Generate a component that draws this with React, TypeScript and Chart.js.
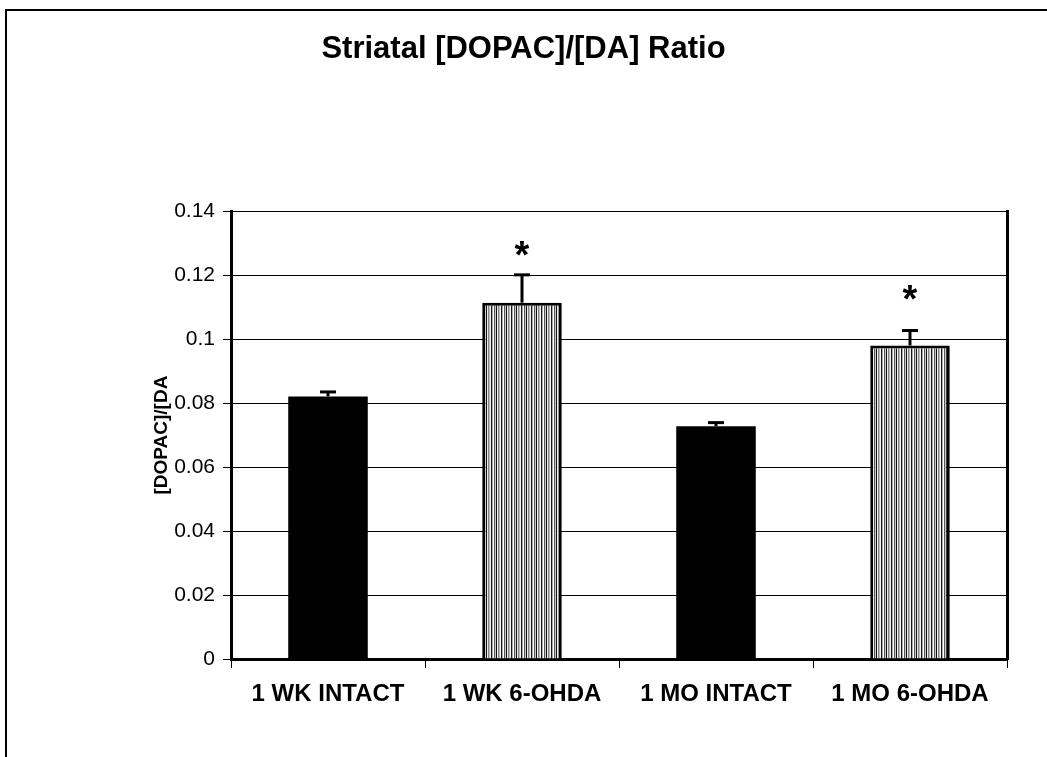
import React, { useEffect, useRef } from "react";
import { Chart, registerables } from "chart.js";

Chart.register(...registerables);

const FONT = "'Liberation Sans', Arial, Helvetica, sans-serif";

const chartTitle = "Striatal [DOPAC]/[DA] Ratio";
const yAxisTitle = "[DOPAC]/[DA";
const categories = ["1 WK INTACT", "1 WK 6-OHDA", "1 MO INTACT", "1 MO 6-OHDA"];
const ratioValues = [0.0821, 0.1114, 0.0728, 0.098];
const errorValues = [0.0014, 0.0087, 0.0011, 0.0047];
const striped = [false, true, false, true];
const asteriskValues: (number | null)[] = [null, 0.1292, null, 0.1155];
const yTickValues = [0, 0.02, 0.04, 0.06, 0.08, 0.1, 0.12, 0.14];
const yTickLabels = ["0", "0.02", "0.04", "0.06", "0.08", "0.1", "0.12", "0.14"];

function makeStripePattern(ctx: CanvasRenderingContext2D) {
  const c = document.createElement("canvas");
  c.width = 10;
  c.height = 4;
  const g = c.getContext("2d")!;
  const cols = ["#f4f4f4", "#1a1a1a", "#aaaaaa", "#ffffff", "#555555", "#cccccc", "#111111", "#eeeeee", "#888888", "#bbbbbb"];
  cols.forEach((col, i) => {
    g.fillStyle = col;
    g.fillRect(i, 0, 1, 4);
  });
  return ctx.createPattern(c, "repeat")!;
}

const errorBarPlugin = {
  id: "errorBars",
  afterDatasetsDraw(chart: any) {
    const meta = chart.getDatasetMeta(0);
    const y = chart.scales.y;
    const ctx = chart.ctx as CanvasRenderingContext2D;
    ctx.save();
    ctx.strokeStyle = "#000";
    ctx.fillStyle = "#000";
    meta.data.forEach((bar: any, i: number) => {
      const top = y.getPixelForValue(ratioValues[i]);
      const cap = y.getPixelForValue(ratioValues[i] + errorValues[i]);
      ctx.lineWidth = 3;
      ctx.beginPath();
      ctx.moveTo(bar.x, top);
      ctx.lineTo(bar.x, cap);
      ctx.stroke();
      ctx.beginPath();
      ctx.moveTo(bar.x - 8, cap);
      ctx.lineTo(bar.x + 8, cap);
      ctx.stroke();
      const a = asteriskValues[i];
      if (a !== null) {
        const size = 38;
        ctx.font = `bold ${size}px ${FONT}`;
        ctx.textAlign = "center";
        ctx.textBaseline = "alphabetic";
        ctx.fillText("*", bar.x, y.getPixelForValue(a) + 0.58 * size);
      }
    });
    ctx.restore();
  },
  afterDraw(chart: any) {
    const ctx = chart.ctx as CanvasRenderingContext2D;
    ctx.save();
    ctx.strokeStyle = "#000";
    ctx.lineWidth = 2;
    ctx.beginPath();
    ctx.moveTo(6, chart.height);
    ctx.lineTo(6, 10);
    ctx.lineTo(chart.width, 10);
    ctx.stroke();
    ctx.restore();
  },
};

export default function App() {
  const ref = useRef<HTMLCanvasElement>(null);
  useEffect(() => {
    const canvas = ref.current!;
    const ctx = canvas.getContext("2d")!;
    const pattern = makeStripePattern(ctx);
    Chart.defaults.font.family = FONT;
    Chart.defaults.color = "#000";
    const chart = new Chart(canvas, {
      type: "bar",
      data: {
        labels: categories,
        datasets: [
          {
            data: ratioValues,
            backgroundColor: striped.map((s) => (s ? pattern : "#000000")),
            borderColor: "#000",
            borderWidth: striped.map((s) => (s ? 3 : 0)),
            barPercentage: 0.41,
            categoryPercentage: 1,
          },
        ],
      },
      options: {
        responsive: false,
        animation: false,
        layout: { padding: 0 },
        plugins: {
          legend: { display: false },
          tooltip: { enabled: false },
          title: {
            display: true,
            text: chartTitle,
            color: "#000",
            font: { size: 31, weight: "bold", family: FONT },
            padding: { top: 31, bottom: 143 },
          },
        },
        scales: {
          x: {
            grid: {
              display: true,
              drawOnChartArea: false,
              drawTicks: true,
              tickLength: 9,
              color: "#000",
              lineWidth: 1,
              offset: true,
            },
            border: { display: true, color: "#000", width: 3 },
            ticks: {
              color: "#000",
              font: { size: 24, weight: "bold", family: FONT },
              padding: 12,
              maxRotation: 0,
              autoSkip: false,
            },
            afterFit: (s: any) => {
              s.height = 98;
            },
          },
          y: {
            min: 0,
            max: 0.14,
            afterBuildTicks: (s: any) => {
              s.ticks = yTickValues.map((v) => ({ value: v }));
            },
            ticks: {
              color: "#000",
              font: { size: 21, family: FONT },
              padding: 8,
              callback: (_v: any, i: number) => yTickLabels[i],
            },
            grid: { color: "#000", lineWidth: 1, tickLength: 8, drawTicks: true },
            border: { display: true, color: "#000", width: 3 },
            title: {
              display: true,
              text: yAxisTitle,
              color: "#000",
              font: { size: 19, weight: "bold", family: FONT },
              padding: { top: 150, bottom: 0 },
            },
            afterFit: (s: any) => {
              s.width = 231;
            },
          },
          y2: {
            type: "linear",
            position: "right",
            display: true,
            grid: { display: false },
            ticks: { display: false },
            border: { display: true, color: "#000", width: 3 },
            afterFit: (s: any) => {
              s.width = 40;
            },
          },
        },
      },
      plugins: [errorBarPlugin],
    } as any);
    return () => chart.destroy();
  }, []);
  return (
    <div style={{ position: "absolute", left: 0, top: 0, width: 1047, height: 757, background: "#fff" }}>
      <canvas ref={ref} width={1047} height={757} />
    </div>
  );
}
